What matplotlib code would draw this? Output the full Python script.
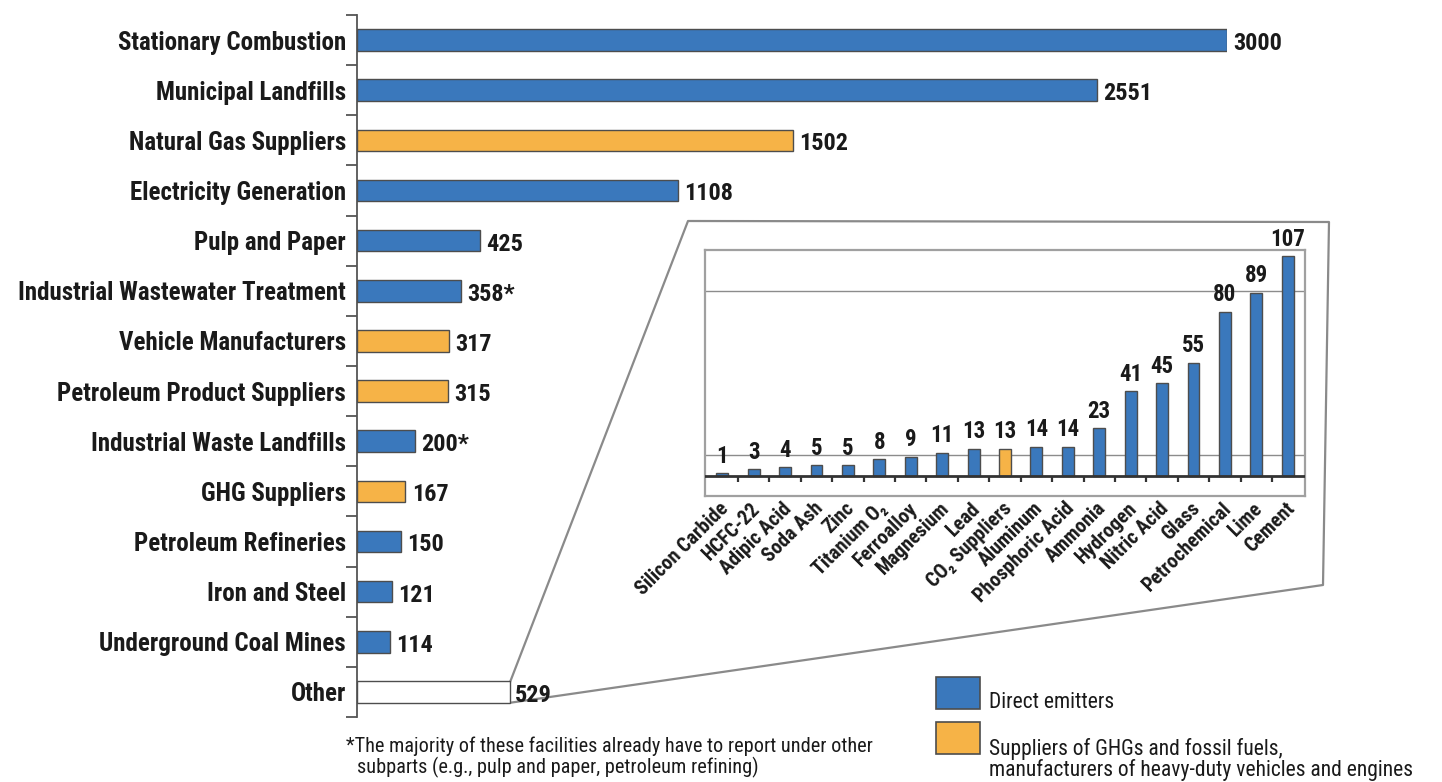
import numpy as np
import matplotlib
matplotlib.use("Agg")
import matplotlib.pyplot as plt
from matplotlib import font_manager
from matplotlib.patches import Rectangle
from matplotlib.lines import Line2D
import matplotlib.transforms as mtransforms

# ---------------- data ----------------
main_categories = ["Stationary Combustion", "Municipal Landfills", "Natural Gas Suppliers",
                   "Electricity Generation", "Pulp and Paper", "Industrial Wastewater Treatment",
                   "Vehicle Manufacturers", "Petroleum Product Suppliers", "Industrial Waste Landfills",
                   "GHG Suppliers", "Petroleum Refineries", "Iron and Steel",
                   "Underground Coal Mines", "Other"]
main_values = [3000, 2551, 1502, 1108, 425, 358, 317, 315, 200, 167, 150, 121, 114, 529]
main_labels = ["3000", "2551", "1502", "1108", "425", "358*", "317", "315", "200*",
               "167", "150", "121", "114", "529"]
main_groups = ["direct", "direct", "supplier", "direct", "direct", "direct", "supplier",
               "supplier", "direct", "supplier", "direct", "direct", "direct", "other"]

inset_categories = ["Silicon Carbide", "HCFC-22", "Adipic Acid", "Soda Ash", "Zinc",
                    "Titanium O\u2082", "Ferroalloy", "Magnesium", "Lead", "CO\u2082 Suppliers",
                    "Aluminum", "Phosphoric Acid", "Ammonia", "Hydrogen", "Nitric Acid",
                    "Glass", "Petrochemical", "Lime", "Cement"]
inset_values = [1, 3, 4, 5, 5, 8, 9, 11, 13, 13, 14, 14, 23, 41, 45, 55, 80, 89, 107]
inset_groups = ["direct"] * 9 + ["supplier"] + ["direct"] * 9

legend_direct = "Direct emitters"
legend_supplier = ["Suppliers of GHGs and fossil fuels,",
                   "manufacturers of heavy-duty vehicles and engines"]
footnote_lines = ["*The majority of these facilities already have to report under other",
                  "subparts (e.g., pulp and paper, petroleum refining)"]

# ---------------- fonts ----------------
entries = font_manager.fontManager.ttflist
names = {f.name for f in entries}
narrow = None
for cand in ["Roboto Condensed", "Liberation Sans Narrow", "Open Sans Condensed",
             "Noto Sans Condensed", "DejaVu Sans Condensed"]:
    if cand in names:
        narrow = cand
        break
stretch = "normal"
if narrow is None:
    for f in entries:
        if str(f.stretch) in ("condensed", "semi-condensed") and "Sans" in f.name:
            narrow = f.name
            stretch = f.stretch
            break
scale = 1.0
if narrow is None:
    narrow = "Liberation Sans"
    scale = 0.86
FAM = [narrow, "DejaVu Sans"]
plt.rcParams["font.family"] = FAM
plt.rcParams["font.stretch"] = stretch

def fs(v):
    return v * scale

colors = {"direct": "#3A78BC", "supplier": "#F6B347", "other": "#FFFFFF"}
EDGE = "#4D4D4D"
TXT = "#1A1A1A"

W, H = 1442, 782
fig = plt.figure(figsize=(W / 100, H / 100), dpi=100)

def px_axes(x0, y0, x1, y1):
    return [x0 / W, 1 - y1 / H, (x1 - x0) / W, (y1 - y0) / H]

# ---------------- main chart ----------------
ax = fig.add_axes(px_axes(357, 15, 1227, 717))
ax.patch.set_visible(False)
y = np.arange(len(main_categories))
ax.barh(y, main_values, height=0.43,
        color=[colors[g] for g in main_groups], edgecolor=EDGE, linewidth=1.0, zorder=3)
ax.set_xlim(0, 3000)
ax.set_ylim(len(main_categories) - 0.5, -0.5)
for s in ["top", "right", "bottom"]:
    ax.spines[s].set_visible(False)
ax.spines["left"].set_color("#555555")
ax.spines["left"].set_linewidth(1.3)
ax.set_xticks([])
ax.set_yticks(y)
ax.set_yticklabels(main_categories, fontsize=fs(18), fontweight="bold", color=TXT)
ax.tick_params(axis="y", which="major", length=0, pad=8)
ax.set_yticks(np.arange(-0.5, len(main_categories)), minor=True)
ax.tick_params(axis="y", which="minor", length=8, width=1.3, color="#555555", direction="out")
for yi, v, lab, g in zip(y, main_values, main_labels, main_groups):
    off = 3 if g == "other" else 4.5
    ax.annotate(lab, (v, yi), xytext=(off, -2.5), textcoords="offset points",
                ha="left", va="center", fontsize=fs(17.5), fontweight="bold", color=TXT,
                annotation_clip=False)

# ---------------- inset ----------------
ix0, iy0, ix1, iy1 = 705, 250, 1305, 496
ax2 = fig.add_axes(px_axes(ix0, iy0, ix1, iy1))
xi = np.arange(len(inset_categories))
ax2.bar(xi, inset_values, width=0.38, color=[colors[g] for g in inset_groups],
        edgecolor=EDGE, linewidth=1.0, zorder=3)
ax2.set_xlim(-0.55, len(inset_categories) - 0.45)
ax2.set_ylim(-10, 110)
for s in ax2.spines.values():
    s.set_color("#A0A0A0")
    s.set_linewidth(1.6)
ax2.set_yticks([])
for gv in [10, 90]:
    ax2.axhline(gv, color="#8C8C8C", lw=1.0, zorder=1)
ax2.axhline(0, color="#333333", lw=2.0, zorder=4)
ax2.vlines(np.arange(0.5, len(inset_categories) - 0.5), -3.2, 0, color="#333333", lw=1.6, zorder=4)
ax2.set_xticks(xi)
ax2.set_xticklabels(inset_categories, rotation=45, ha="right", rotation_mode="anchor",
                    fontsize=fs(14.5), fontweight="bold", color=TXT)
ax2.tick_params(axis="x", length=0, pad=2)
shift = mtransforms.ScaledTranslation(-3 / 100, 0, fig.dpi_scale_trans)
for t in ax2.get_xticklabels():
    t.set_transform(t.get_transform() + shift)
for xv, v in zip(xi, inset_values):
    ax2.annotate(str(v), (xv, v), xytext=(0, 4), textcoords="offset points",
                 ha="center", va="bottom", fontsize=fs(16.5), fontweight="bold", color=TXT)

# ---------------- overlay (callout, legend, footnote) ----------------
ov = fig.add_axes([0, 0, 1, 1], zorder=-1)
ov.set_xlim(0, W)
ov.set_ylim(H, 0)
ov.axis("off")

fig.canvas.draw()
other_i = len(main_categories) - 1
top_right = ax.transData.transform((main_values[other_i], other_i - 0.215))
bot_right = ax.transData.transform((main_values[other_i], other_i + 0.215))
tr = (top_right[0], H - top_right[1])
br = (bot_right[0], H - bot_right[1])
poly_x = [tr[0], 688, 1329, 1323, br[0]]
poly_y = [tr[1], 221, 222, 585, br[1]]
ov.add_line(Line2D(poly_x, poly_y, color="#8A8A8A", lw=1.6))

# legend
ov.add_patch(Rectangle((936, 677), 44, 32, facecolor=colors["direct"], edgecolor=EDGE, lw=1.2))
ov.add_patch(Rectangle((936, 722), 44, 32, facecolor=colors["supplier"], edgecolor=EDGE, lw=1.2))
ov.text(989, 708, legend_direct, ha="left", va="baseline", fontsize=fs(15.5), color=TXT)
ov.text(989, 755, legend_supplier[0], ha="left", va="baseline", fontsize=fs(15.5), color=TXT)
ov.text(989, 776, legend_supplier[1], ha="left", va="baseline", fontsize=fs(15.5), color=TXT)

# footnote
ov.text(346, 752, footnote_lines[0], ha="left", va="baseline", fontsize=fs(14.6), color=TXT)
ov.text(357, 773, footnote_lines[1], ha="left", va="baseline", fontsize=fs(14.6), color=TXT)

fig.savefig("out.png", dpi=100)
